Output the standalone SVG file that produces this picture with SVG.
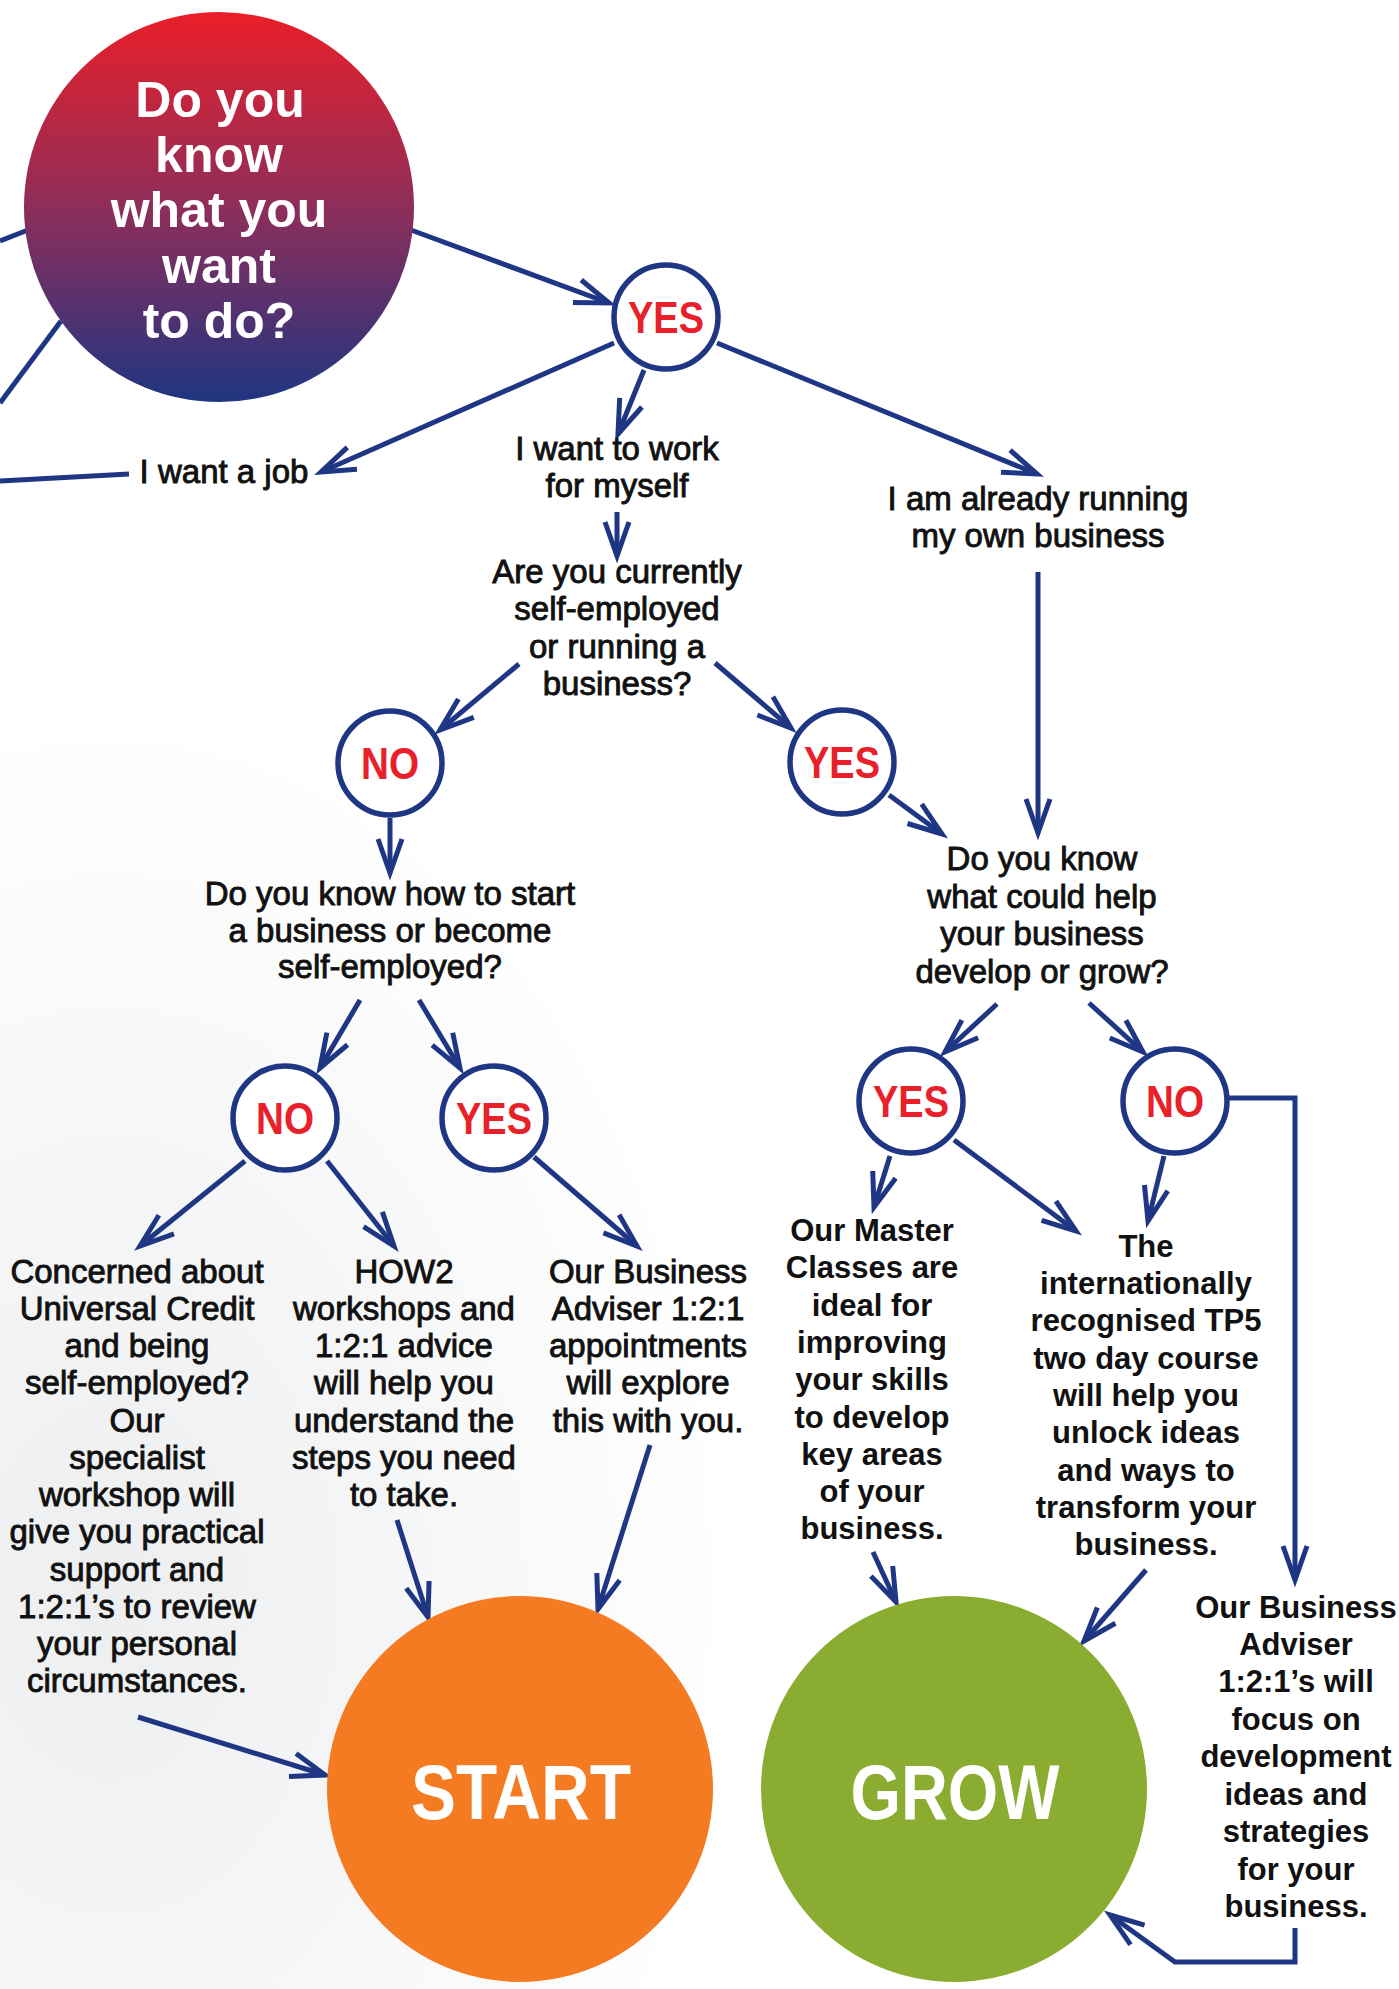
<svg xmlns="http://www.w3.org/2000/svg" width="1399" height="1989" viewBox="0 0 1399 1989">
<defs>
<linearGradient id="gq" x1="0" y1="0" x2="0" y2="1">
<stop offset="0" stop-color="#EA1F29"/>
<stop offset="0.5" stop-color="#8E2E5A"/>
<stop offset="1" stop-color="#1F3581"/>
</linearGradient>
<radialGradient id="bg" cx="0.08" cy="0.8" r="0.45">
<stop offset="0" stop-color="#EDEEF0"/>
<stop offset="1" stop-color="#FFFFFF"/>
</radialGradient>
<marker id="ah" markerUnits="userSpaceOnUse" viewBox="-40 -20 46 40" markerWidth="46" markerHeight="40" refX="0" refY="0" orient="auto" overflow="visible">
<path d="M-34,-12 L0,0 L-34,12" fill="none" stroke="#1F3685" stroke-width="5"/>
</marker>
<style>
.ln{fill:none;stroke:#1F3685;stroke-width:5}
.ar{marker-end:url(#ah)}
.bub{fill:#fff;stroke:#1F3685;stroke-width:5.5}
.yn{font-family:"Liberation Sans",Arial,sans-serif;font-weight:700;font-size:45px;fill:#E8202A;text-anchor:middle}
.t{font-family:"Liberation Sans",Arial,sans-serif;font-size:33px;fill:#111;stroke:#111;stroke-width:0.9;text-anchor:middle}
.tb{font-family:"Liberation Sans",Arial,sans-serif;font-size:31px;font-weight:700;fill:#111;text-anchor:middle}
.big{font-family:"Liberation Sans",Arial,sans-serif;font-weight:700;fill:#fff;text-anchor:middle}
</style>
</defs>
<rect x="0" y="0" width="1399" height="1989" fill="url(#bg)"/>

<g id="connectors">
<path class="ln ar" d="M411,230 L609,303"/>
<path class="ln ar" d="M614,343 L321,472"/>
<path class="ln ar" d="M644,370 L618,434"/>
<path class="ln ar" d="M717,343 L1037,474"/>
<path class="ln" d="M129,474 L0,481"/>
<path class="ln" d="M28,230 L0,241"/>
<path class="ln" d="M61,321 L0,403"/>
<path class="ln ar" d="M617,512 L617,556"/>
<path class="ln ar" d="M519,664 L440,730"/>
<path class="ln ar" d="M715,663 L791,728"/>
<path class="ln ar" d="M1038,572 L1038,833"/>
<path class="ln ar" d="M889,795 L942,834"/>
<path class="ln ar" d="M390,818 L390,873"/>
<path class="ln ar" d="M360,1000 L320,1068"/>
<path class="ln ar" d="M419,1000 L460,1068"/>
<path class="ln ar" d="M997,1004 L945,1052"/>
<path class="ln ar" d="M1089,1003 L1143,1052"/>
<path class="ln ar" d="M245,1161 L140,1246"/>
<path class="ln ar" d="M327,1161 L394,1246"/>
<path class="ln ar" d="M534,1157 L637,1246"/>
<path class="ln ar" d="M890,1156 L874,1207"/>
<path class="ln ar" d="M954,1140 L1076,1231"/>
<path class="ln ar" d="M1164,1156 L1148,1221"/>
<path class="ln ar" d="M1228,1098 L1295,1098 L1295,1580"/>
<path class="ln ar" d="M397,1520 L428,1617"/>
<path class="ln ar" d="M650,1445 L598,1609"/>
<path class="ln ar" d="M138,1717 L325,1775"/>
<path class="ln ar" d="M873,1552 L896,1602"/>
<path class="ln ar" d="M1146,1570 L1084,1641"/>
<path class="ln ar" d="M1295,1928 L1295,1962 L1175,1962 L1110,1915"/>
</g>

<g id="q-main">
<circle cx="219" cy="207" r="195" fill="url(#gq)"/>
<text class="big" font-size="50"><tspan x="220" y="117">Do you</tspan><tspan x="219" y="172">know</tspan><tspan x="219" y="227">what you</tspan><tspan x="219" y="283">want</tspan><tspan x="219" y="338">to do?</tspan></text>
</g>

<g id="yes1"><circle class="bub" cx="666" cy="317" r="52"/><text class="yn" x="666" y="333" textLength="76" lengthAdjust="spacingAndGlyphs">YES</text></g>

<g id="job"><text class="t" x="224" y="483">I want a job</text></g>

<g id="self"><text class="t"><tspan x="617" y="460">I want to work</tspan><tspan x="617" y="497">for myself</tspan></text></g>

<g id="running"><text class="t"><tspan x="1038" y="510">I am already running</tspan><tspan x="1038" y="547">my own business</tspan></text></g>

<g id="q-current"><text class="t"><tspan x="617" y="583">Are you currently</tspan><tspan x="617" y="620">self-employed</tspan><tspan x="617" y="658">or running a</tspan><tspan x="617" y="695">business?</tspan></text></g>

<g id="no1"><circle class="bub" cx="390" cy="763" r="52"/><text class="yn" x="390" y="779" textLength="58" lengthAdjust="spacingAndGlyphs">NO</text></g>

<g id="yes2"><circle class="bub" cx="842" cy="762" r="52"/><text class="yn" x="842" y="778" textLength="76" lengthAdjust="spacingAndGlyphs">YES</text></g>

<g id="q-start"><text class="t"><tspan x="390" y="905">Do you know how to start</tspan><tspan x="390" y="942">a business or become</tspan><tspan x="390" y="978">self-employed?</tspan></text></g>

<g id="q-grow"><text class="t"><tspan x="1042" y="870">Do you know</tspan><tspan x="1042" y="908">what could help</tspan><tspan x="1042" y="945">your business</tspan><tspan x="1042" y="983">develop or grow?</tspan></text></g>

<g id="no2"><circle class="bub" cx="285" cy="1118" r="52"/><text class="yn" x="285" y="1134" textLength="58" lengthAdjust="spacingAndGlyphs">NO</text></g>

<g id="yes4"><circle class="bub" cx="494" cy="1118" r="52"/><text class="yn" x="494" y="1134" textLength="76" lengthAdjust="spacingAndGlyphs">YES</text></g>

<g id="yes3"><circle class="bub" cx="911" cy="1101" r="52"/><text class="yn" x="911" y="1117" textLength="76" lengthAdjust="spacingAndGlyphs">YES</text></g>

<g id="no3"><circle class="bub" cx="1175" cy="1101" r="52"/><text class="yn" x="1175" y="1117" textLength="58" lengthAdjust="spacingAndGlyphs">NO</text></g>

<g id="uc"><text class="t"><tspan x="137" y="1283">Concerned about</tspan><tspan x="137" y="1320">Universal Credit</tspan><tspan x="137" y="1357">and being</tspan><tspan x="137" y="1394">self-employed?</tspan><tspan x="137" y="1432">Our</tspan><tspan x="137" y="1469">specialist</tspan><tspan x="137" y="1506">workshop will</tspan><tspan x="137" y="1543">give you practical</tspan><tspan x="137" y="1581">support and</tspan><tspan x="137" y="1618">1:2:1’s to review</tspan><tspan x="137" y="1655">your personal</tspan><tspan x="137" y="1692">circumstances.</tspan></text></g>

<g id="how2"><text class="t"><tspan x="404" y="1283">HOW2</tspan><tspan x="404" y="1320">workshops and</tspan><tspan x="404" y="1357">1:2:1 advice</tspan><tspan x="404" y="1394">will help you</tspan><tspan x="404" y="1432">understand the</tspan><tspan x="404" y="1469">steps you need</tspan><tspan x="404" y="1506">to take.</tspan></text></g>

<g id="adviser-start"><text class="t"><tspan x="648" y="1283">Our Business</tspan><tspan x="648" y="1320">Adviser 1:2:1</tspan><tspan x="648" y="1357">appointments</tspan><tspan x="648" y="1394">will explore</tspan><tspan x="648" y="1432">this with you.</tspan></text></g>

<g id="master"><text class="tb"><tspan x="872" y="1241">Our Master</tspan><tspan x="872" y="1278">Classes are</tspan><tspan x="872" y="1316">ideal for</tspan><tspan x="872" y="1353">improving</tspan><tspan x="872" y="1390">your skills</tspan><tspan x="872" y="1428">to develop</tspan><tspan x="872" y="1465">key areas</tspan><tspan x="872" y="1502">of your</tspan><tspan x="872" y="1539">business.</tspan></text></g>

<g id="tp5"><text class="tb"><tspan x="1146" y="1257">The</tspan><tspan x="1146" y="1294">internationally</tspan><tspan x="1146" y="1331">recognised TP5</tspan><tspan x="1146" y="1369">two day course</tspan><tspan x="1146" y="1406">will help you</tspan><tspan x="1146" y="1443">unlock ideas</tspan><tspan x="1146" y="1481">and ways to</tspan><tspan x="1146" y="1518">transform your</tspan><tspan x="1146" y="1555">business.</tspan></text></g>

<g id="adviser-grow"><text class="tb"><tspan x="1296" y="1618">Our Business</tspan><tspan x="1296" y="1655">Adviser</tspan><tspan x="1296" y="1692">1:2:1’s will</tspan><tspan x="1296" y="1730">focus on</tspan><tspan x="1296" y="1767">development</tspan><tspan x="1296" y="1805">ideas and</tspan><tspan x="1296" y="1842">strategies</tspan><tspan x="1296" y="1880">for your</tspan><tspan x="1296" y="1917">business.</tspan></text></g>

<g id="start"><circle cx="520" cy="1789" r="193" fill="#F47B22"/><text class="big" x="521" y="1819" font-size="78" textLength="220" lengthAdjust="spacingAndGlyphs">START</text></g>

<g id="grow"><circle cx="954" cy="1789" r="193" fill="#8AAC31"/><text class="big" x="955" y="1819" font-size="77" textLength="209" lengthAdjust="spacingAndGlyphs">GROW</text></g>
</svg>
